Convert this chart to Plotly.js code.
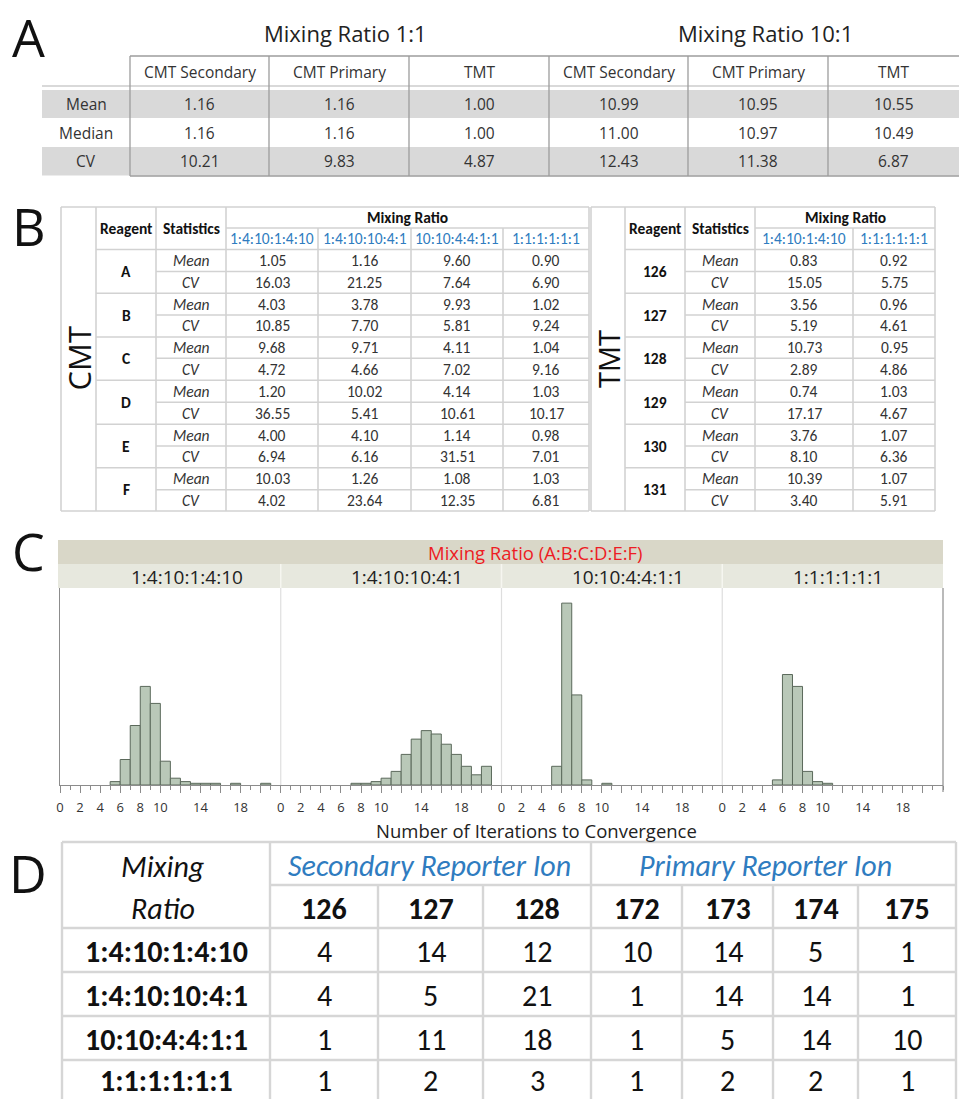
<!DOCTYPE html>
<html>
<head>
<meta charset="utf-8">
<script src="https://cdn.plot.ly/plotly-3.0.1.min.js"></script>
<style>
html,body{margin:0;padding:0;background:#fff;}
#chart{width:959px;height:1099px;}
</style>
</head>
<body>
<div id="chart"></div>
<script>
// ---------------- DATA ----------------
// Panel A
const aGroupTitles = ['Mixing Ratio 1:1', 'Mixing Ratio 10:1'];
const aColumns = ['CMT Secondary', 'CMT Primary', 'TMT', 'CMT Secondary', 'CMT Primary', 'TMT'];
const aRowLabels = ['Mean', 'Median', 'CV'];
const aMean   = [1.16, 1.16, 1.00, 10.99, 10.95, 10.55];
const aMedian = [1.16, 1.16, 1.00, 11.00, 10.97, 10.49];
const aCV     = [10.21, 9.83, 4.87, 12.43, 11.38, 6.87];

// Panel B (CMT)
const cmtRatios = ['1:4:10:1:4:10', '1:4:10:10:4:1', '10:10:4:4:1:1', '1:1:1:1:1:1'];
const cmtReagents = ['A', 'B', 'C', 'D', 'E', 'F'];
const cmtMean = [
  [1.05, 1.16, 9.60, 0.90],
  [4.03, 3.78, 9.93, 1.02],
  [9.68, 9.71, 4.11, 1.04],
  [1.20, 10.02, 4.14, 1.03],
  [4.00, 4.10, 1.14, 0.98],
  [10.03, 1.26, 1.08, 1.03]
];
const cmtCV = [
  [16.03, 21.25, 7.64, 6.90],
  [10.85, 7.70, 5.81, 9.24],
  [4.72, 4.66, 7.02, 9.16],
  [36.55, 5.41, 10.61, 10.17],
  [6.94, 6.16, 31.51, 7.01],
  [4.02, 23.64, 12.35, 6.81]
];
// Panel B (TMT)
const tmtRatios = ['1:4:10:1:4:10', '1:1:1:1:1:1'];
const tmtReagents = ['126', '127', '128', '129', '130', '131'];
const tmtMean = [[0.83, 0.92], [3.56, 0.96], [10.73, 0.95], [0.74, 1.03], [3.76, 1.07], [10.39, 1.07]];
const tmtCV   = [[15.05, 5.75], [5.19, 4.61], [2.89, 4.86], [17.17, 4.67], [8.10, 6.36], [3.40, 5.91]];

// Panel C (histograms: bin start, count)
const histTitle = 'Mixing Ratio (A:B:C:D:E:F)';
const histPanels = ['1:4:10:1:4:10', '1:4:10:10:4:1', '10:10:4:4:1:1', '1:1:1:1:1:1'];
const hist1Bins = [5, 6, 7, 8, 9, 10, 11, 12, 13, 14, 15, 17, 20];
const hist1Counts = [2, 15, 35, 58, 48, 14, 4, 2, 1, 1, 1, 1, 1];
const hist2Bins = [7, 8, 9, 10, 11, 12, 13, 14, 15, 16, 17, 18, 19, 20];
const hist2Counts = [1, 1, 2, 4, 8, 18, 27, 32, 30, 24, 18, 11, 6, 11];
const hist3Bins = [5, 6, 7, 8, 10];
const hist3Counts = [11, 107, 53, 3, 1];
const hist4Bins = [5, 6, 7, 8, 9, 10];
const hist4Counts = [3, 65, 58, 8, 2, 1];
const histTickVals = [0, 2, 4, 6, 8, 10, 12, 14, 16, 18, 20];
const histTickText = ['0', '2', '4', '6', '8', '10', '', '14', '', '18', ''];
const histXTitle = 'Number of Iterations to Convergence';

// Panel D
const dGroups = ['Secondary Reporter Ion', 'Primary Reporter Ion'];
const dIons = ['126', '127', '128', '172', '173', '174', '175'];
const dRatios = ['1:4:10:1:4:10', '1:4:10:10:4:1', '10:10:4:4:1:1', '1:1:1:1:1:1'];
const dCounts = [
  [4, 14, 12, 10, 14, 5, 1],
  [4, 5, 21, 1, 14, 14, 1],
  [1, 11, 18, 1, 5, 14, 10],
  [1, 2, 3, 1, 2, 2, 1]
];

// ---------------- LAYOUT HELPERS ----------------
const W = 959, H = 1099;
const FONT_M = '"Open Sans", "Noto Sans", sans-serif';
const FONT_C = 'Carlito, Lato, "Open Sans", sans-serif';
const px = x => x / W;
const py = y => 1 - y / H;
const annotations = [];
const shapes = [];
function txt(x, y, text, o) {
  o = o || {};
  annotations.push({
    xref: 'paper', yref: 'paper', x: px(x), y: py(y), text: text, showarrow: false,
    xanchor: o.xanchor || 'center', yanchor: 'middle', textangle: o.angle || 0,
    font: {family: o.family || FONT_C, size: o.size || 15.5, color: o.color || '#222'}
  });
}
function line(x0, y0, x1, y1, color, width) {
  shapes.push({type: 'line', xref: 'paper', yref: 'paper', x0: px(x0), y0: py(y0), x1: px(x1), y1: py(y1),
    line: {color: color, width: width}, layer: 'above'});
}
function rect(x0, y0, x1, y1, fill) {
  shapes.push({type: 'rect', xref: 'paper', yref: 'paper', x0: px(x0), y0: py(y0), x1: px(x1), y1: py(y1),
    fillcolor: fill, line: {width: 0}, layer: 'below'});
}
const f2 = v => v.toFixed(2);
const mid = (a, b) => (a + b) / 2;

// Panel letters
[['A', 28, 36], ['B', 29, 225], ['C', 28, 550], ['D', 28, 872]].forEach(l =>
  txt(l[1], l[2], l[0], {size: 52, family: FONT_M, color: '#111'}));

// ---------------- PANEL A ----------------
(function () {
  const cx = [42, 130, 269, 409, 549, 688, 828, 959];
  const gridC = '#9c9c9c';
  rect(42, 90, 959, 118, '#d9d9d9');
  rect(42, 147, 959, 175.5, '#d9d9d9');
  line(130, 56, 959, 56, gridC, 1.3);
  line(42, 86, 959, 86, '#b4b4b4', 1.2);
  line(130, 176, 959, 176, gridC, 1.3);
  for (let i = 1; i <= 6; i++) line(cx[i], 56, cx[i], 176, gridC, 1.3);
  const titleX = [345, 765];
  aGroupTitles.forEach((t, i) => txt(titleX[i], 33, t, {size: 22, family: FONT_M, color: '#222'}));
  aColumns.forEach((c, i) => txt(mid(cx[i + 1], cx[i + 2]), 72, c, {size: 15.5, family: FONT_M, color: '#333'}));
  const rowsY = [104, 132.5, 161];
  const rows = [aMean, aMedian, aCV];
  aRowLabels.forEach((l, r) => {
    txt(86, rowsY[r], l, {size: 15.5, family: FONT_M, color: '#333'});
    rows[r].forEach((v, i) => txt(mid(cx[i + 1], cx[i + 2]), rowsY[r], f2(v), {size: 15.5, family: FONT_M, color: '#333'}));
  });
})();

// ---------------- PANEL B ----------------
function statsTable(cols, rows, side, sideSize, ratios, reagents, mean, cv) {
  const g = '#d2d2d2', lw = 1.6, fs = 15.5;
  const top = rows[0], bot = rows[rows.length - 1];
  const L = cols[0], R = cols[cols.length - 1];
  line(L, top, L, bot, g, lw);
  line(R, top, R, bot, g, lw);
  for (let i = 1; i <= 3; i++) line(cols[i], top, cols[i], bot, g, lw);
  for (let i = 4; i < cols.length - 1; i++) line(cols[i], rows[1], cols[i], bot, g, lw);
  line(L, top, R, top, g, lw);
  line(L, bot, R, bot, g, lw);
  line(cols[3], rows[1], R, rows[1], g, lw);
  line(cols[1], rows[2], R, rows[2], g, lw);
  for (let k = 0; k < reagents.length; k++) {
    line(cols[2], rows[3 + 2 * k], R, rows[3 + 2 * k], g, lw);
    if (k < reagents.length - 1) line(cols[1], rows[4 + 2 * k], R, rows[4 + 2 * k], g, lw);
  }
  txt(mid(L, cols[1]), mid(top, bot), side, {size: sideSize, family: FONT_M, color: '#111', angle: -90});
  txt(mid(cols[1], cols[2]), mid(top, rows[2]), '<b>Reagent</b>', {size: fs, color: '#111'});
  txt(mid(cols[2], cols[3]), mid(top, rows[2]), '<b>Statistics</b>', {size: fs, color: '#111'});
  txt(mid(cols[3], R), mid(top, rows[1]), '<b>Mixing Ratio</b>', {size: fs, color: '#111'});
  ratios.forEach((r, j) => txt(mid(cols[3 + j], cols[4 + j]), mid(rows[1], rows[2]), r, {size: fs, color: '#2f7cc0'}));
  reagents.forEach((rg, k) => {
    const yM = mid(rows[2 + 2 * k], rows[3 + 2 * k]);
    const yC = mid(rows[3 + 2 * k], rows[4 + 2 * k]);
    txt(mid(cols[1], cols[2]), mid(rows[2 + 2 * k], rows[4 + 2 * k]), '<b>' + rg + '</b>', {size: fs, color: '#111'});
    txt(mid(cols[2], cols[3]), yM, '<i>Mean</i>', {size: fs, color: '#333'});
    txt(mid(cols[2], cols[3]), yC, '<i>CV</i>', {size: fs, color: '#333'});
    mean[k].forEach((v, j) => txt(mid(cols[3 + j], cols[4 + j]), yM, f2(v), {size: fs, color: '#333'}));
    cv[k].forEach((v, j) => txt(mid(cols[3 + j], cols[4 + j]), yC, f2(v), {size: fs, color: '#333'}));
  });
}
const bRows = [207, 228, 249.5, 271.5, 293.3, 315, 337, 358.3, 380.3, 402.3, 424.3, 446, 467.7, 489.7, 511];
statsTable([61, 96, 156, 226, 318, 411, 503, 589], bRows, 'CMT', 31, cmtRatios, cmtReagents, cmtMean, cmtCV);
statsTable([591, 625, 685, 755, 853, 935], bRows, 'TMT', 29, tmtRatios, tmtReagents, tmtMean, tmtCV);

// ---------------- PANEL C ----------------
const panelEdges = [60, 280.75, 501.5, 722.25, 943];
const plotTop = 588, plotBot = 785;
rect(58, 540, 943, 564, '#d9d7c8');
rect(58, 564, 943, 588, '#e7e8de');
for (let i = 1; i < 4; i++) {
  line(panelEdges[i], 564, panelEdges[i], 588, '#f6f6f0', 1.5);
  line(panelEdges[i], plotTop, panelEdges[i], plotBot, '#dedede', 1.2);
}
line(943, plotTop, 943, 792, '#8c8c8c', 1.2);
txt(535, 552.5, histTitle, {size: 18.5, family: FONT_M, color: '#ed1c24'});
const panelLabelX = [187, 407, 628, 838];
histPanels.forEach((p, i) => txt(panelLabelX[i], 577, p, {size: 19, family: FONT_M, color: '#222'}));
txt(536, 830, histXTitle, {size: 18.5, family: FONT_M, color: '#222'});

const histBins = [hist1Bins, hist2Bins, hist3Bins, hist4Bins];
const histCounts = [hist1Counts, hist2Counts, hist3Counts, hist4Counts];
const traces = histBins.map((bins, i) => ({
  type: 'bar',
  x: bins.map(b => b + 0.5),
  y: histCounts[i],
  width: 1,
  xaxis: i === 0 ? 'x' : 'x' + (i + 1),
  yaxis: 'y',
  marker: {color: '#b9c8b8', line: {color: '#5b695b', width: 1}},
  hoverinfo: 'skip'
}));

const layout = {
  width: W, height: H,
  margin: {l: 0, r: 0, t: 0, b: 0, pad: 0},
  paper_bgcolor: '#ffffff',
  plot_bgcolor: 'rgba(0,0,0,0)',
  showlegend: false,
  bargap: 0,
  annotations: annotations,
  shapes: shapes,
  yaxis: {
    domain: [py(plotBot), py(plotTop)], range: [0, 115.9], anchor: 'x',
    showline: true, linecolor: '#8c8c8c', linewidth: 1.2, showticklabels: false,
    ticks: '', showgrid: false, zeroline: false, fixedrange: true
  }
};
for (let i = 0; i < 4; i++) {
  const key = i === 0 ? 'xaxis' : 'xaxis' + (i + 1);
  layout[key] = {
    domain: [px(panelEdges[i]), px(panelEdges[i + 1])],
    range: [0, 22], anchor: 'y',
    tickmode: 'array', tickvals: histTickVals, ticktext: histTickText,
    ticks: 'outside', ticklen: 7, tickwidth: 1, tickcolor: '#8c8c8c',
    ticklabelstandoff: 3,
    minor: {dtick: 1, tick0: 0, ticks: 'outside', ticklen: 4, tickwidth: 1, tickcolor: '#8c8c8c', showgrid: false},
    showline: true, linecolor: '#8c8c8c', linewidth: 1.2,
    showgrid: false, zeroline: false, fixedrange: true,
    tickfont: {family: FONT_M, size: 13, color: '#333'}
  };
}

// ---------------- PANEL D ----------------
(function () {
  const cx = [62, 270, 378, 483, 591, 682, 773, 858, 956];
  const ry = [842, 885, 928, 972, 1016, 1060, 1104];
  const g = '#d6d6d6', lw = 2.4;
  line(cx[0], ry[0], cx[0], ry[6], g, lw);
  line(cx[8], ry[0], cx[8], ry[6], g, lw);
  line(cx[1], ry[0], cx[1], ry[6], g, lw);
  line(cx[4], ry[0], cx[4], ry[6], g, lw);
  [2, 3, 5, 6, 7].forEach(i => line(cx[i], ry[1], cx[i], ry[6], g, lw));
  line(cx[0], ry[0], cx[8], ry[0], g, lw);
  line(cx[1], ry[1], cx[8], ry[1], g, lw);
  for (let r = 2; r <= 5; r++) line(cx[0], ry[r], cx[8], ry[r], g, lw);
  const DF = FONT_C, DS = 30;
  txt(163, 866, '<i>Mixing</i>', {size: DS, family: DF, color: '#111'});
  txt(163, 908, '<i>Ratio</i>', {size: DS, family: DF, color: '#111'});
  const gx = [429, 765];
  dGroups.forEach((t, i) => txt(gx[i], 865, '<i>' + t + '</i>', {size: DS, family: DF, color: '#2f7cc0'}));
  dIons.forEach((t, j) => txt(mid(cx[j + 1], cx[j + 2]), 908, '<b>' + t + '</b>', {size: DS, family: DF, color: '#111'}));
  dRatios.forEach((t, r) => {
    const y = mid(ry[r + 2], ry[r + 3]) + 1 - (r === 3 ? 3 : 0);
    txt(166, y, '<b>' + t + '</b>', {size: DS, family: DF, color: '#111'});
    dCounts[r].forEach((v, j) => txt(mid(cx[j + 1], cx[j + 2]), y, String(v), {size: DS, family: DF, color: '#111'}));
  });
})();

Plotly.newPlot('chart', traces, layout, {displayModeBar: false, staticPlot: true});
</script>
</body>
</html>
